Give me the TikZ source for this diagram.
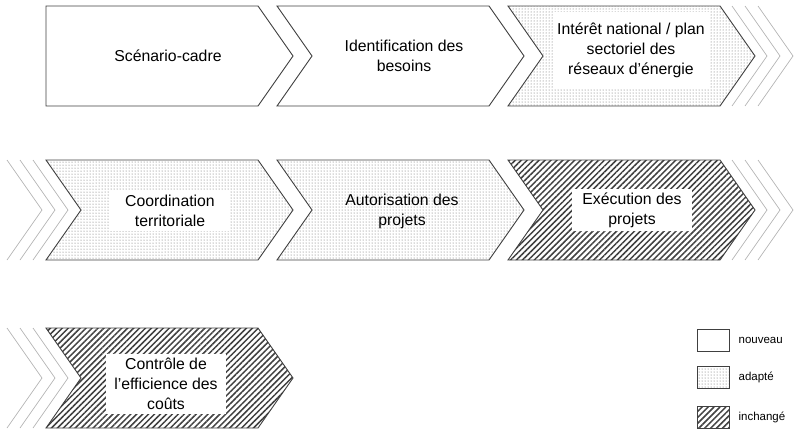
\documentclass[tikz,border=0pt]{standalone}
\usepackage{fontspec}
\setmainfont{Liberation Sans}
\usepackage{tikz}
\usetikzlibrary{patterns.meta}
\usetikzlibrary{positioning}
\definecolor{edgegray}{HTML}{404040}
\definecolor{ghostgray}{HTML}{B4B4B4}
\tikzset{
  chevron/.style = {insert path={-- ++(212,0) -- ++(35,50) -- ++(-35,50)
    -- ++(-212,0) -- ++(35,-50) -- cycle}},% fleche avec encoche
  new_step/.style = {draw=edgegray, line width=0.9pt, fill=white},% nouveau
  adapted_step/.style = {draw=edgegray, line width=0.9pt,
    pattern={Dots[distance=3pt, radius=0.5pt]}, pattern color=black!62},% adapte
  kept_step/.style = {draw=edgegray, line width=0.9pt,
    pattern={Lines[angle=45, distance=4.2pt, line width=1.5pt]},
    pattern color=black!75},% inchange
  ghost_arrow/.style = {draw=ghostgray, line width=0.7pt},% etapes suivantes
  step_text/.style = {align=center, inner sep=0pt,
    font=\fontsize{15.8}{20}\selectfont},
  text_box/.style = {step_text, fill=white, inner sep=4pt,
    minimum width=120pt},
  legend_box/.style = {draw=edgegray, line width=0.8pt,
    minimum width=32pt, minimum height=22pt, inner sep=0pt},
  legend_text/.style = {font=\fontsize{11.5}{13}\selectfont, inner sep=0pt}
}
\begin{document}
\begin{tikzpicture}[x=1pt, y=-1pt]
  \useasboundingbox (0,0) rectangle (794,432);

  % rangee 1
  \draw[new_step] (46,6) -- (258,6) -- (293,56) -- (258,106) -- (46,106) -- cycle;
  \draw[new_step] (277,6) [chevron];
  \draw[adapted_step] (508,6) [chevron];
  \foreach \x in {732,745,758}
    \draw[ghost_arrow] (\x,6) -- ++(35,50) -- ++(-35,50);

  \node[step_text] (scenario) at (168,56) {Scénario-cadre};
  \node[step_text] (besoins) at (404,56) {Identification des\\besoins};
  \node[text_box, minimum height=76pt] (interet) at (631,50)
    {Intérêt national / plan\\sectoriel des\\réseaux d’énergie};

  % rangee 2
  \foreach \x in {7,20,33}
    \draw[ghost_arrow] (\x,160) -- ++(35,50) -- ++(-35,50);
  \draw[adapted_step] (46,160) [chevron];
  \draw[adapted_step] (277,160) [chevron];
  \draw[kept_step] (508,160) [chevron];
  \foreach \x in {732,745,758}
    \draw[ghost_arrow] (\x,160) -- ++(35,50) -- ++(-35,50);

  \node[text_box] (coordination) at (170,211) {Coordination\\territoriale};
  \node[step_text] (autorisation) at (402,211) {Autorisation des\\projets};
  \node[text_box] (execution) at (632,210) {Exécution des\\projets};

  % rangee 3
  \foreach \x in {7,20,33}
    \draw[ghost_arrow] (\x,328) -- ++(35,50) -- ++(-35,50);
  \draw[kept_step] (46,328) [chevron];
  \node[text_box] (controle) at (166,384)
    {Contrôle de\\l’efficience des\\coûts};

  % legende
  \node[legend_box, fill=white] (l_new) at (713,340) {};
  \node[legend_box, pattern={Dots[distance=3pt, radius=0.5pt]},
    pattern color=black!62] (l_adapted) at (713,377) {};
  \node[legend_box, pattern={Lines[angle=45, distance=4.2pt, line width=1.5pt]},
    pattern color=black!75] (l_kept) at (713,417) {};
  \node[legend_text, right=9pt of l_new] (t_new) {nouveau};
  \node[legend_text, right=9pt of l_adapted] (t_adapted) {adapté};
  \node[legend_text, right=9pt of l_kept] (t_kept) {inchangé};
\end{tikzpicture}
\end{document}
